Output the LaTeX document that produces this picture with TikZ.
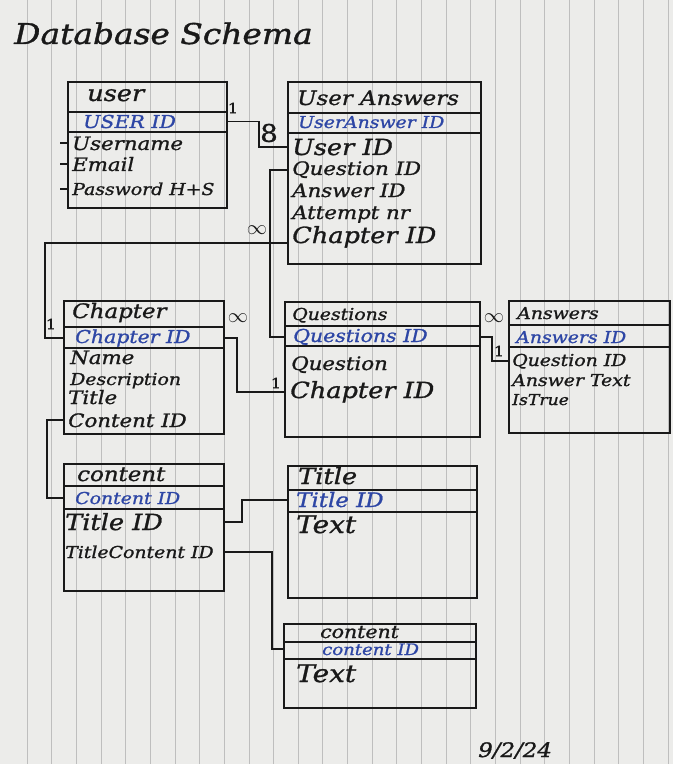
\documentclass[tikz,border=0pt]{standalone}
\usepackage{fontspec}
\newfontfamily\hand[FakeStretch=1.15, FakeBold=1.2]{DejaVu Serif}
\definecolor{paper}{RGB}{236,236,234}
\definecolor{rule}{RGB}{190,190,190}
\definecolor{pen}{RGB}{25,25,25}
\definecolor{ink}{RGB}{45,70,165}

\begin{document}
\begin{tikzpicture}[x=0.03cm, y=-0.03cm,
  tbl/.style={draw=pen, line width=1.8pt, anchor=north west, inner sep=0pt},
  rowline/.style={draw=pen, line width=1.6pt},
  head/.style={anchor=base west, inner sep=0pt, text=pen, font=\hand\itshape\fontsize{17}{17}\selectfont},
  field/.style={anchor=base west, inner sep=0pt, text=pen, font=\hand\itshape\fontsize{15.8}{15.8}\selectfont},
  wide/.style={font=\hand\itshape\fontsize{19}{19}\selectfont},
  slim/.style={font=\hand\itshape\fontsize{14}{14}\selectfont},
  key/.style={field, text=ink, font=\hand\itshape\fontsize{15.2}{15.2}\selectfont},
  link/.style={draw=pen, line width=1.6pt},
  card/.style={inner sep=0pt, text=pen, font=\hand\fontsize{12}{12}\selectfont},
  many/.style={inner sep=0pt, text=pen, font=\fontsize{17}{17}\selectfont}]

\fill [paper] (0,0) rectangle (673,764);
\useasboundingbox (0,0) rectangle (673,764);
\foreach \k in {0,...,26}
  \draw [rule, line width=.6pt] ({27+24.65*\k},0) -- ({27+24.65*\k},764);

\node [anchor=base west, inner sep=0pt, text=pen, font=\hand\itshape\fontsize{24.4}{24.4}\selectfont] (title) at (14,44) {Database Schema};

% tables
\node [tbl, minimum width=4.77cm, minimum height=3.78cm] (user) at (67,81) {};
\node [tbl, minimum width=5.79cm, minimum height=5.46cm] (ua) at (287,81) {};
\node [tbl, minimum width=4.8cm, minimum height=3.99cm] (ch) at (63,300) {};
\node [tbl, minimum width=5.85cm, minimum height=4.05cm] (qu) at (284,301) {};
\node [tbl, minimum width=4.83cm, minimum height=3.96cm] (an) at (508,300) {};
\node [tbl, minimum width=4.8cm, minimum height=3.81cm] (co) at (63,463) {};
\node [tbl, minimum width=5.67cm, minimum height=3.96cm] (ti) at (287,465) {};
\node [tbl, minimum width=5.76cm, minimum height=2.52cm] (ct) at (283,623) {};

\draw [rowline] (user.west |- 0,112) -- (user.east |- 0,112);
\draw [rowline] (user.west |- 0,132) -- (user.east |- 0,132);
\draw [rowline] (ua.west |- 0,113) -- (ua.east |- 0,113);
\draw [rowline] (ua.west |- 0,133) -- (ua.east |- 0,133);
\draw [rowline] (ch.west |- 0,327) -- (ch.east |- 0,327);
\draw [rowline] (ch.west |- 0,348) -- (ch.east |- 0,348);
\draw [rowline] (qu.west |- 0,326) -- (qu.east |- 0,326);
\draw [rowline] (qu.west |- 0,346) -- (qu.east |- 0,346);
\draw [rowline] (an.west |- 0,325) -- (an.east |- 0,325);
\draw [rowline] (an.west |- 0,347) -- (an.east |- 0,347);
\draw [rowline] (co.west |- 0,486) -- (co.east |- 0,486);
\draw [rowline] (co.west |- 0,509) -- (co.east |- 0,509);
\draw [rowline] (ti.west |- 0,490) -- (ti.east |- 0,490);
\draw [rowline] (ti.west |- 0,512) -- (ti.east |- 0,512);
\draw [rowline] (ct.west |- 0,642) -- (ct.east |- 0,642);
\draw [rowline] (ct.west |- 0,659) -- (ct.east |- 0,659);

% user
\node [head, wide] (uhead) at (87,101) {user};
\node [key] (uid) at (83,128) {USER ID};
\node [field] (uname) at (72,150) {Username};
\node [field] (umail) at (72,171) {Email};
\node [field, slim] (upass) at (72,195) {Password H+S};

% user answers
\node [head] (uahead) at (297,105) {User Answers};
\node [key, slim] (uaid) at (298,128) {UserAnswer ID};
\node [field, wide] (uauser) at (292,155) {User ID};
\node [field] (uaq) at (292,175) {Question ID};
\node [field] (uaans) at (292,197) {Answer ID};
\node [field] (uaatt) at (292,219) {Attempt nr};
\node [field, wide] (uach) at (292,243) {Chapter ID};

% chapter
\node [head] (chhead) at (72,318) {Chapter};
\node [key] (chid) at (75,343) {Chapter ID};
\node [field] (chname) at (70,364) {Name};
\node [field, slim] (chdesc) at (70,385) {Description};
\node [field] (chtitle) at (68,404) {Title};
\node [field] (chcont) at (68,427) {Content ID};

% questions
\node [head, slim] (quhead) at (292,320) {Questions};
\node [key] (quid) at (293,342) {Questions ID};
\node [field] (quq) at (291,370) {Question};
\node [field, wide] (quch) at (290,398) {Chapter ID};

% answers
\node [head, slim] (anhead) at (517,319) {Answers};
\node [key, slim] (anid) at (516,343) {Answers ID};
\node [field, slim] (anq) at (512,366) {Question ID};
\node [field, slim] (antext) at (512,386) {Answer Text};
\node [field, font=\hand\itshape\fontsize{12.8}{12.8}\selectfont] (antrue) at (512,405) {IsTrue};

% content
\node [head] (cohead) at (77,481) {content};
\node [key, slim] (coid) at (75,504) {Content ID};
\node [field, wide] (cotitle) at (65,530) {Title ID};
\node [field, slim] (cotc) at (65,558) {TitleContent ID};

% title
\node [head, wide] (tihead) at (298,484) {Title};
\node [key, font=\hand\itshape\fontsize{17}{17}\selectfont] (tiid) at (296,507) {Title ID};
\node [field, font=\hand\itshape\fontsize{20.7}{20.7}\selectfont] (titext) at (296,533) {Text};

% content text
\node [head, font=\hand\itshape\fontsize{15.2}{15.2}\selectfont] (cthead) at (320,638) {content};
\node [key, font=\hand\itshape\fontsize{13.4}{13.4}\selectfont] (ctid) at (322,655) {content ID};
\node [field, font=\hand\itshape\fontsize{20.7}{20.7}\selectfont] (cttext) at (296,682) {Text};

\node [anchor=base west, inner sep=0pt, text=pen, font=\hand\itshape\fontsize{17}{17}\selectfont] (date) at (478,757) {9/2/24};

% ticks
\foreach \f in {uname,umail,upass}
  \draw [link] (user.west |- \f) -- ++(-7,0);

% links
\draw [link] (user.east |- uid) -- ++(31,0) |- (ua.west |- uauser);
\draw [link] (ch.west |- chid) -- ++(-18,0) |- (ua.west |- uach.base);
\draw [link] (ua.west |- uaq) -- ++(-17,0) |- (qu.west |- quid);
\draw [link] (ch.east |- chid) -- ++(12,0) |- (qu.west |- quch);
\draw [link] (qu.east |- quid) -- ++(11,0) |- (an.west |- anq);
\draw [link] (ch.west |- chcont) -- ++(-16,0) |- (co.west |- coid);
\draw [link] (co.east |- cotitle) -- ++(17,0) |- (ti.west |- tiid);
\draw [link] (co.east |- cotc) -- ++(47,0) |- (ct.west |- ctid);

% cardinalities
\node [card] (c1) at (233,108) {1};
\node [many, font=\hand\fontsize{20.7}{20.7}\selectfont] (c2) at (269,133) {8};
\node [card] (c3) at (51,324) {1};
\node [many] (c4) at (257,230) {$\infty$};
\node [many] (c5) at (238,318) {$\infty$};
\node [card] (c6) at (276,383) {1};
\node [many] (c7) at (494,318) {$\infty$};
\node [card] (c8) at (499,351) {1};

\end{tikzpicture}
\end{document}
